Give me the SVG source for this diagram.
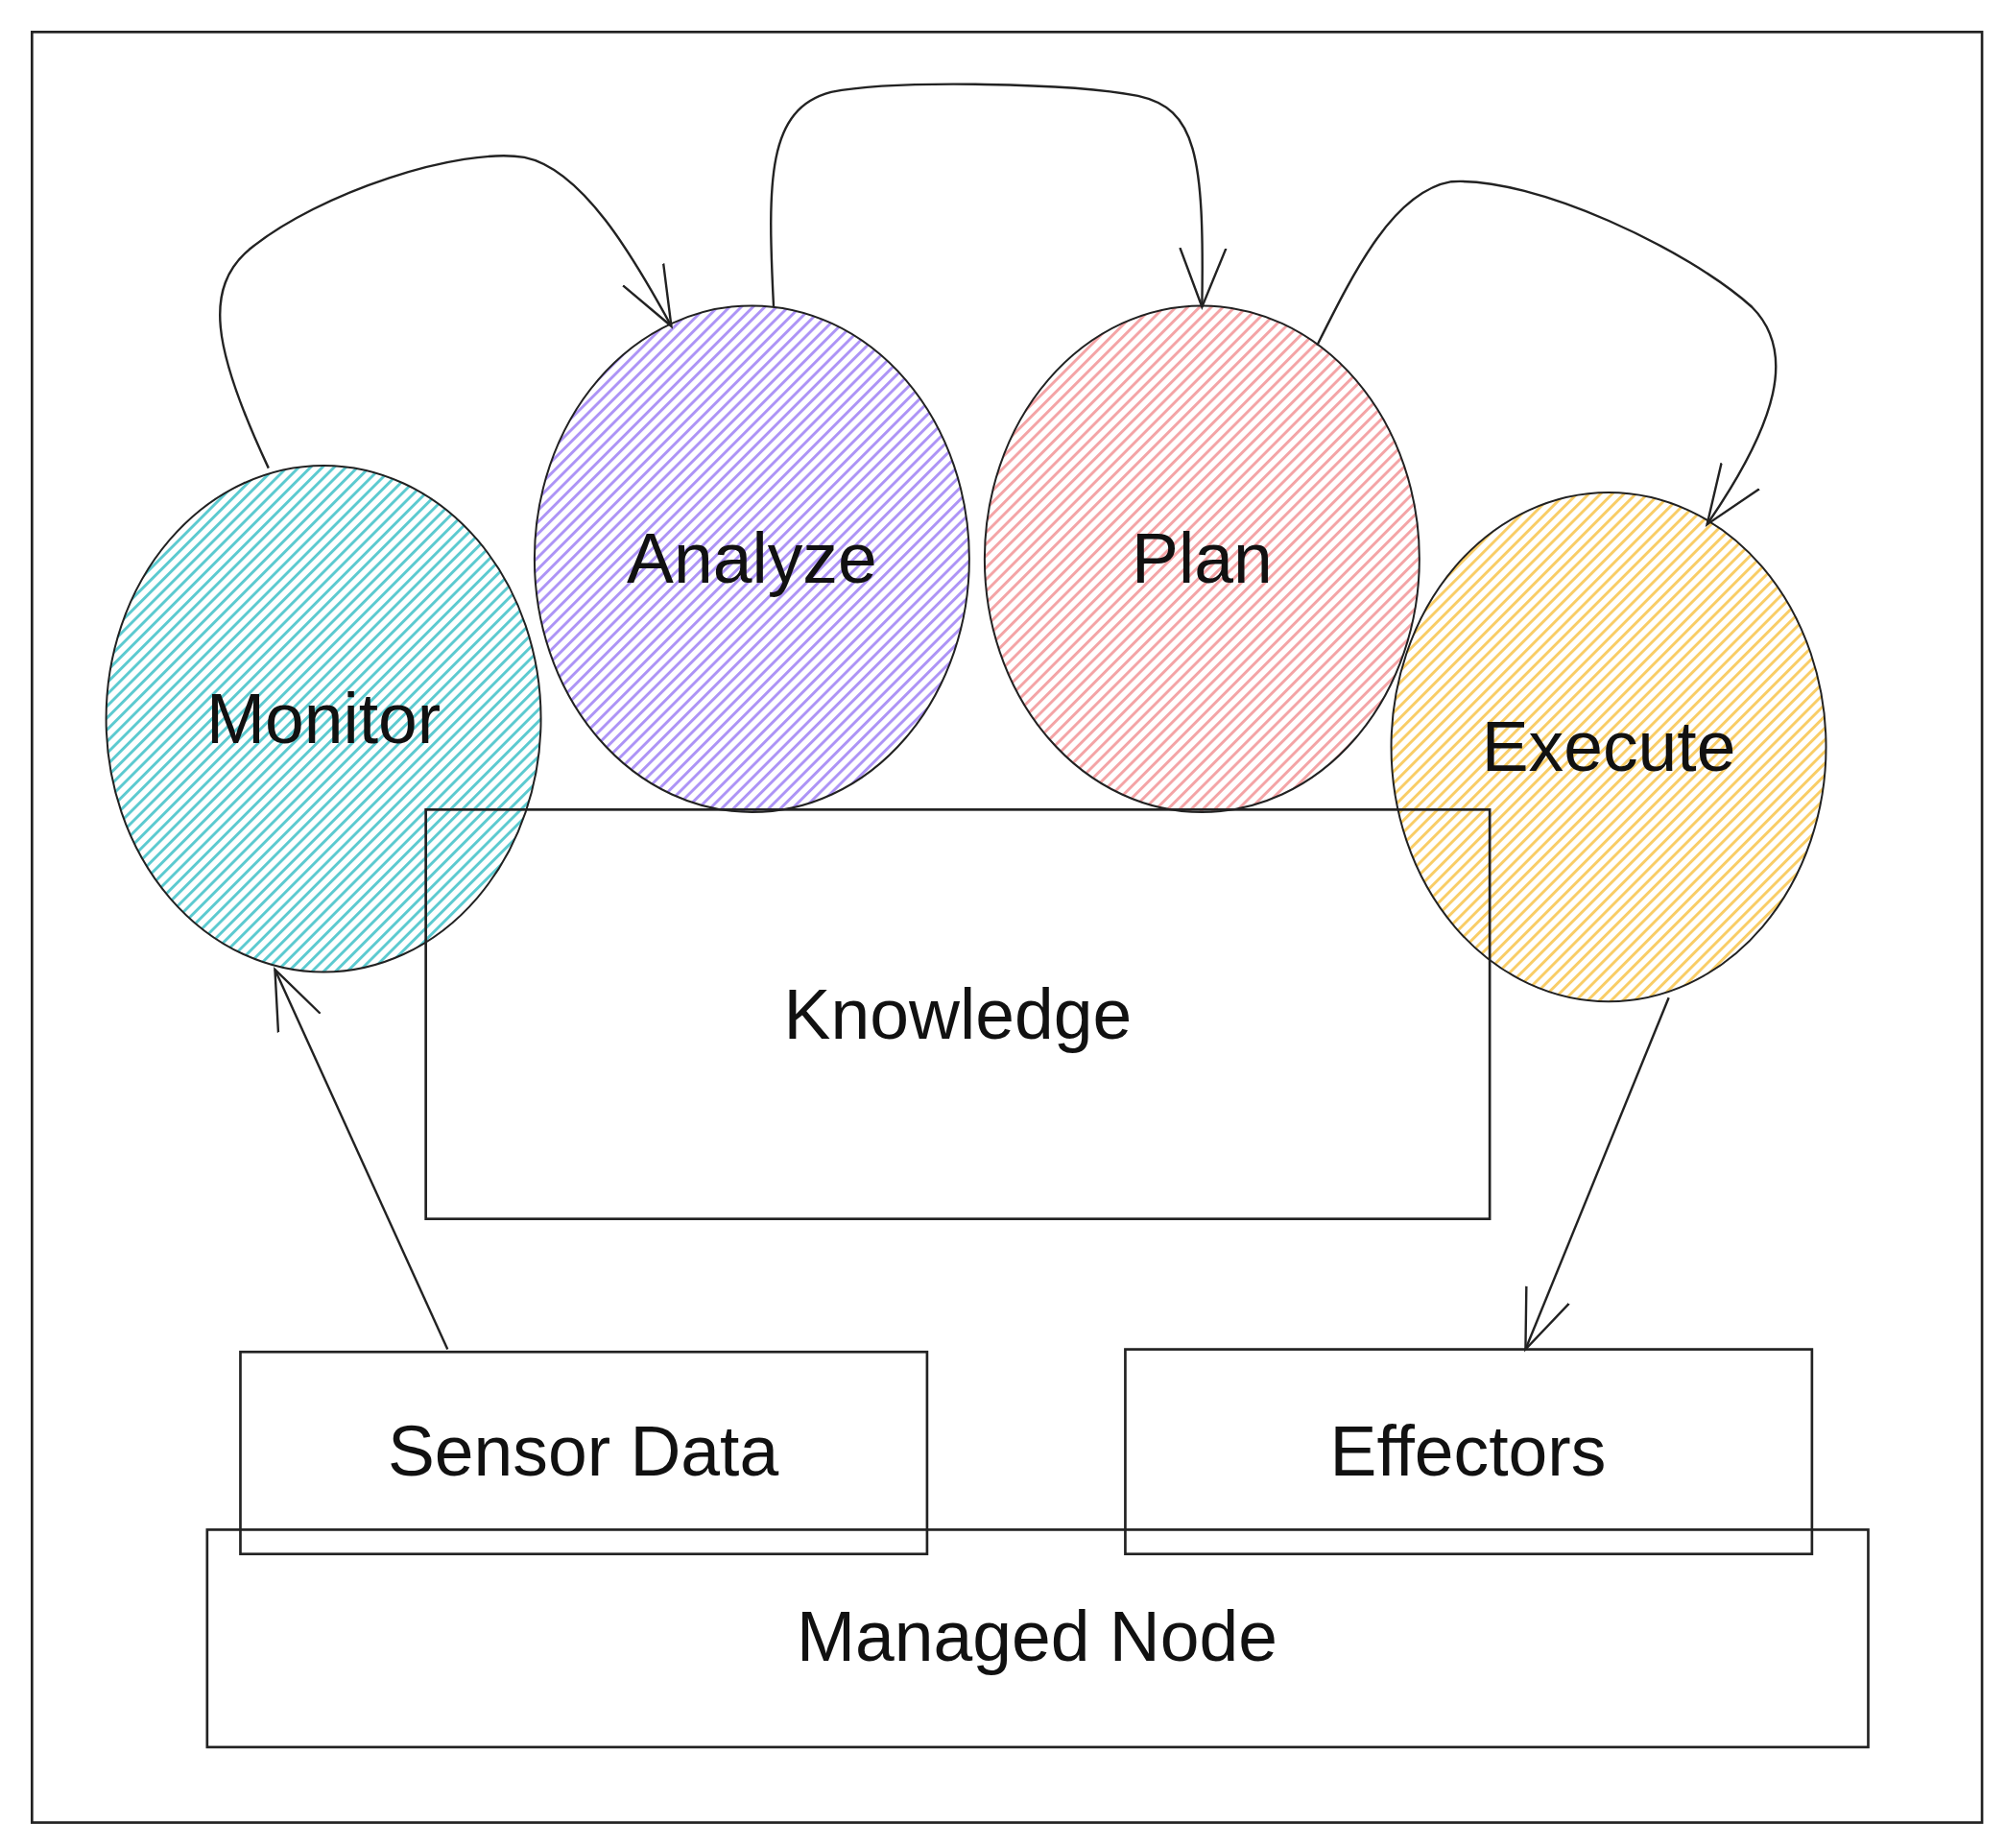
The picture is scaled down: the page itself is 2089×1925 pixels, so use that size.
<svg xmlns="http://www.w3.org/2000/svg" width="2089" height="1925" viewBox="0 0 2089 1925">
<defs>
<style>
.box{fill:none;stroke:#222;stroke-width:2}
.ell{stroke:#222;stroke-width:1.5}
.t{font-family:"Liberation Sans",Arial,sans-serif;font-size:55px;fill:#111;text-anchor:middle;dominant-baseline:central}
.c{fill:none;stroke:#222;stroke-width:1.8}
</style>
<pattern id="hT" patternUnits="userSpaceOnUse" width="6.5" height="6.5" patternTransform="rotate(45)"><rect width="6.5" height="6.5" fill="#fff"/><rect width="2.2" height="6.5" fill="#5ccad0"/></pattern>
<pattern id="hP" patternUnits="userSpaceOnUse" width="6.5" height="6.5" patternTransform="rotate(45)"><rect width="6.5" height="6.5" fill="#fff"/><rect width="2.2" height="6.5" fill="#ad94f6"/></pattern>
<pattern id="hR" patternUnits="userSpaceOnUse" width="6.5" height="6.5" patternTransform="rotate(45)"><rect width="6.5" height="6.5" fill="#fff"/><rect width="2.2" height="6.5" fill="#f4a4a6"/></pattern>
<pattern id="hY" patternUnits="userSpaceOnUse" width="6.5" height="6.5" patternTransform="rotate(45)"><rect width="6.5" height="6.5" fill="#fff"/><rect width="2.2" height="6.5" fill="#f9cd66"/></pattern>
<marker id="arr" markerUnits="userSpaceOnUse" markerWidth="60" markerHeight="60" refX="46" refY="25" orient="auto"><polyline points="0,7 46,25 0,43" fill="none" stroke="#222" stroke-width="1.8"/></marker>
</defs>
<rect width="2089" height="1925" fill="#fff"/>
<g transform="scale(1.3323)">
<rect class="box" x="25" y="25" width="1525" height="1400"/>
<g id="monitor"><ellipse class="ell" cx="253" cy="562" rx="170" ry="198" fill="url(#hT)"/><text class="t" x="253" y="562">Monitor</text></g>
<g id="analyze"><ellipse class="ell" cx="588" cy="437" rx="170" ry="198" fill="url(#hP)"/><text class="t" x="588" y="437">Analyze</text></g>
<g id="plan"><ellipse class="ell" cx="940" cy="437" rx="170" ry="198" fill="url(#hR)"/><text class="t" x="940" y="437">Plan</text></g>
<g id="execute"><ellipse class="ell" cx="1258" cy="584" rx="170" ry="199" fill="url(#hY)"/><text class="t" x="1258" y="584">Execute</text></g>
<g id="knowledge"><rect class="box" x="333" y="633" width="832" height="320"/><text class="t" x="749" y="793">Knowledge</text></g>
<g id="managed"><rect class="box" x="162" y="1196" width="1299" height="170"/><text class="t" x="811" y="1280">Managed Node</text></g>
<g id="sensor"><rect class="box" x="188" y="1057" width="537" height="158"/><text class="t" x="456" y="1135">Sensor Data</text></g>
<g id="effectors"><rect class="box" x="880" y="1055" width="537" height="160"/><text class="t" x="1148" y="1135">Effectors</text></g>
<g id="connectors">
<path class="c" marker-end="url(#arr)" d="M210,366 C165,270 160,225 195,195 C250,150 360,115 410,123 C455,132 495,200 525,255"/>
<path class="c" marker-end="url(#arr)" d="M605,240 C600,140 600,85 650,72 C700,62 840,65 890,75 C935,85 942,120 940,240"/>
<path class="c" marker-end="url(#arr)" d="M1030,270 C1060,210 1090,150 1135,142 C1200,138 1320,195 1370,240 C1405,275 1390,330 1335,410"/>
<path class="c" marker-end="url(#arr)" d="M1305,780 L1193,1055"/>
<path class="c" marker-end="url(#arr)" d="M350,1055 L215,758"/>
</g>
</g>
</svg>
